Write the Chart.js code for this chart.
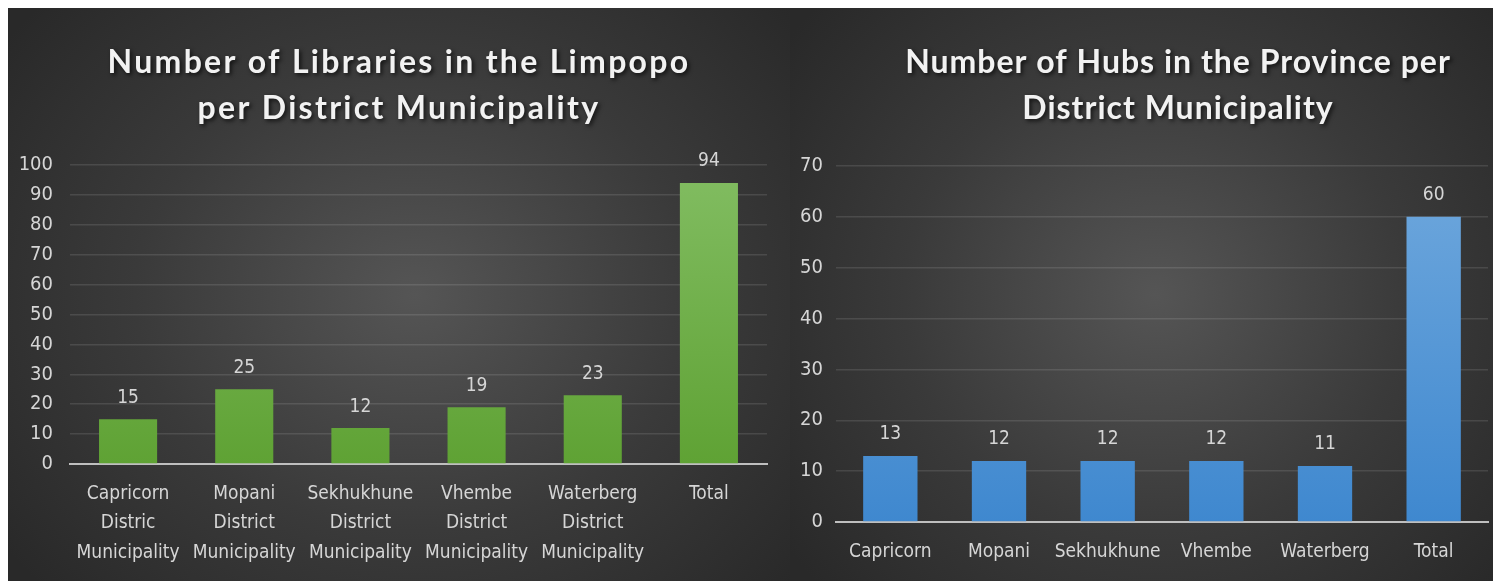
<!DOCTYPE html>
<html>
<head>
<meta charset="utf-8">
<script src="https://cdn.jsdelivr.net/npm/chart.js@4.4.1/dist/chart.umd.min.js"></script>
<style>
  html, body { margin: 0; padding: 0; background: #ffffff; }
  body { width: 1493px; height: 581px; position: relative; overflow: hidden; }
  .panel { position: absolute; top: 8px; height: 573px; }
  #leftPanel { left: 8px; width: 782px;
    background: radial-gradient(ellipse 65% 75% at 52% 50%, #555555 0%, #3a3a3a 55%, #292929 100%); }
  #rightPanel { left: 790px; width: 703px;
    background: radial-gradient(ellipse 65% 75% at 52% 50%, #555555 0%, #3a3a3a 55%, #292929 100%); }
</style>
</head>
<body>
<div class="panel" id="leftPanel"><canvas id="mycanvas1"></canvas></div>
<div class="panel" id="rightPanel"><canvas id="mycanvas2"></canvas></div>
<script>
// libraries per district
const libLabels = [
    ['Capricorn', 'Distric', 'Municipality'],
    ['Mopani', 'District', 'Municipality'],
    ['Sekhukhune', 'District', 'Municipality'],
    ['Vhembe', 'District', 'Municipality'],
    ['Waterberg', 'District', 'Municipality'],
    'Total'
];
const libCounts = [15, 25, 12, 19, 23, 94];
const libTitle = ['Number of Libraries in the Limpopo', 'per District Municipality'];

// hubs per district
const hubLabels = ['Capricorn', 'Mopani', 'Sekhukhune', 'Vhembe', 'Waterberg', 'Total'];
const hubCounts = [13, 12, 12, 12, 11, 60];
const hubTitle = ['Number of Hubs in the Province per', 'District Municipality'];

const tickFont = "'Liberation Sans Narrow', 'DejaVu Sans Condensed', Lato, sans-serif";
const textColor = '#d6d6d6';

// big two-line title with a soft shadow
const bigTitle = {
    id: 'bigTitle',
    afterDraw(chart, args, opts) {
        const ctx = chart.ctx;
        ctx.save();
        ctx.font = 'bold 32px Lato, sans-serif';
        ctx.letterSpacing = opts.spacing + 'px';
        ctx.fillStyle = '#f2f2f2';
        ctx.textAlign = 'center';
        ctx.textBaseline = 'middle';
        ctx.shadowColor = 'rgba(0,0,0,0.7)';
        ctx.shadowBlur = 4;
        ctx.shadowOffsetX = 2;
        ctx.shadowOffsetY = 2;
        opts.lines.forEach((t, i) => ctx.fillText(t, opts.x, opts.y + i * 46));
        ctx.restore();
    }
};

// value above every bar
const valueLabels = {
    id: 'valueLabels',
    afterDatasetsDraw(chart) {
        const ctx = chart.ctx;
        const meta = chart.getDatasetMeta(0);
        const values = chart.data.datasets[0].data;
        ctx.save();
        ctx.font = "19px " + tickFont;
        ctx.fillStyle = textColor;
        ctx.textAlign = 'center';
        ctx.textBaseline = 'bottom';
        meta.data.forEach((bar, i) => {
            ctx.fillText(values[i], bar.x, bar.y - 12);
        });
        ctx.restore();
    }
};

function barGradient(top, bottom) {
    return function(context) {
        const area = context.chart.chartArea;
        if (!area) return bottom;
        const g = context.chart.ctx.createLinearGradient(0, area.top, 0, area.bottom);
        g.addColorStop(0, top);
        g.addColorStop(1, bottom);
        return g;
    };
}

function makeChart(id, labels, values, cfg) {
    return new Chart(document.getElementById(id), {
        type: 'bar',
        data: {
            labels: labels,
            datasets: [{
                data: values,
                backgroundColor: barGradient(cfg.top, cfg.bottom),
                borderWidth: 0,
                barPercentage: 0.5,
                categoryPercentage: 1
            }]
        },
        options: {
            responsive: true,
            maintainAspectRatio: false,
            animation: false,
            layout: { padding: cfg.padding },
            plugins: {
                legend: { display: false },
                title: { display: false },
                tooltip: { enabled: false },
                bigTitle: cfg.title
            },
            scales: {
                x: {
                    grid: { display: false, drawTicks: false },
                    border: { color: '#bfbfbf', width: 2 },
                    ticks: {
                        color: textColor,
                        font: { family: tickFont, size: 19, lineHeight: 1.55 },
                        padding: 15,
                        maxRotation: 0,
                        autoSkip: false
                    },
                    afterFit: scale => { scale.height = cfg.xHeight; }
                },
                y: {
                    min: 0,
                    max: cfg.max,
                    grid: { color: 'rgba(255,255,255,0.11)', lineWidth: 1.5, drawTicks: false },
                    border: { display: false },
                    ticks: {
                        stepSize: 10,
                        color: textColor,
                        font: { family: tickFont, size: 20 },
                        padding: cfg.yPad
                    },
                    afterFit: scale => { scale.width = cfg.yWidth; }
                }
            }
        },
        plugins: [bigTitle, valueLabels]
    });
}

makeChart('mycanvas1', libLabels, libCounts, {
    top: '#82bd62', bottom: '#5fa234',
    max: 100,
    padding: { top: 157, right: 23, bottom: 0, left: 0 },
    xHeight: 117,
    yWidth: 62,
    yPad: 17,
    title: { lines: libTitle, x: 391, y: 55, spacing: 2.3 }
});

makeChart('mycanvas2', hubLabels, hubCounts, {
    top: '#6fa8dd', bottom: '#3f88cf',
    max: 70,
    padding: { top: 158, right: 5, bottom: 0, left: 0 },
    xHeight: 59,
    yWidth: 46,
    yPad: 13,
    title: { lines: hubTitle, x: 388, y: 55, spacing: 1.0 }
});
</script>
</body>
</html>
